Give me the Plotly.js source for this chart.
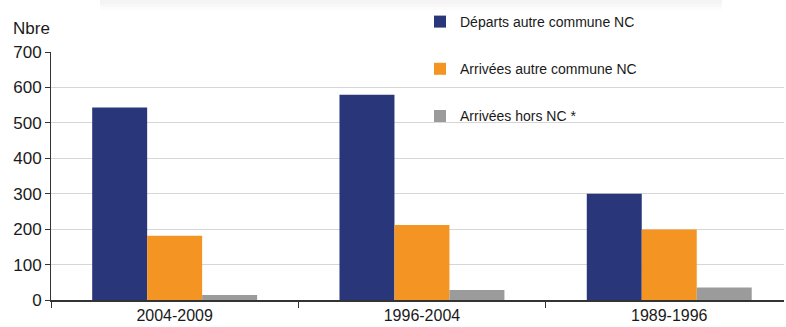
<!DOCTYPE html>
<html>
<head>
<meta charset="utf-8">
<script src="https://cdn.plot.ly/plotly-3.0.1.min.js"></script>
<style>html,body{margin:0;padding:0;background:#fff;}#chart{width:786px;height:327px;}</style>
</head>
<body>
<div id="chart"></div>
<script>
const periods = ["2004-2009", "1996-2004", "1989-1996"];
const seriesNames = ["Départs autre commune NC", "Arrivées autre commune NC", "Arrivées hors NC *"];
const departsNC = [543, 579, 300];
const arriveesNC = [181, 212, 199];
const arriveesHorsNC = [14, 28, 35];
const colors = ["#29377A", "#F39423", "#9B9B9B"];
const yTicks = [0, 100, 200, 300, 400, 500, 600, 700];

const narrow = "'Liberation Sans Narrow', 'Arial Narrow', 'Liberation Sans', Arial, sans-serif";
const regular = "'Liberation Sans', Arial, sans-serif";

const allValues = [departsNC, arriveesNC, arriveesHorsNC];
const traces = allValues.map((vals, i) => ({
  type: "bar",
  x: periods,
  y: vals,
  name: seriesNames[i],
  legendgroup: "g" + i,
  marker: {color: colors[i], line: {width: 0}},
  hoverinfo: "skip"
}));

const W = 786, H = 327, L = 51, R = 2, T = 52, B = 27;
const pw = W - L - R, ph = H - T - B;
const px2x = p => (p - L) / pw;
const px2y = p => 1 + (T - p) / ph;
const catWidthPx = 247.3;

const shapes = [];
[[10, 0.012], [7, 0.014], [4, 0.016]].forEach(([h, op]) => {
  shapes.push({type: "rect", xref: "paper", yref: "paper", x0: px2x(100), x1: px2x(722), y0: px2y(h), y1: px2y(-4),
    fillcolor: "rgba(0,0,0," + op + ")", line: {width: 0}, layer: "below"});
});

const layout = {
  width: W, height: H,
  margin: {l: L, r: R, t: T, b: B, pad: 0},
  paper_bgcolor: "#ffffff", plot_bgcolor: "#ffffff",
  barmode: "group", bargap: 0.333, bargroupgap: 0,
  showlegend: true,
  legend: {
    x: px2x(420), xanchor: "left", y: px2y(6), yanchor: "top",
    orientation: "v", traceorder: "grouped", tracegroupgap: 26,
    bgcolor: "rgba(0,0,0,0)", borderwidth: 0,
    font: {family: narrow, size: 14, color: "#1a1a1a"},
    itemwidth: 30
  },
  xaxis: {
    type: "category", range: [-0.5, -0.5 + pw / catWidthPx],
    showline: true, linecolor: "#333", linewidth: 1.5,
    ticks: "outside", tickson: "boundaries", ticklen: 6, tickcolor: "#333",
    tickfont: {family: narrow, size: 16, color: "#1a1a1a"},
    showgrid: false, zeroline: false, fixedrange: true
  },
  yaxis: {
    range: [0, 700], tickvals: yTicks, ticktext: yTicks.map(String),
    showline: true, linecolor: "#333", linewidth: 1,
    ticks: "outside", ticklen: 5, tickcolor: "#333",
    tickfont: {family: regular, size: 17, color: "#1a1a1a"},
    showgrid: true, gridcolor: "#d6d6d6", gridwidth: 1,
    zeroline: false, fixedrange: true
  },
  annotations: [{
    text: "Nbre", xref: "paper", yref: "paper", x: px2x(11), y: px2y(28),
    xanchor: "left", yanchor: "middle", showarrow: false,
    font: {family: narrow, size: 17, color: "#1a1a1a"}
  }],
  shapes: shapes
};

Plotly.newPlot("chart", traces, layout, {displayModeBar: false, staticPlot: true});
</script>
</body>
</html>
